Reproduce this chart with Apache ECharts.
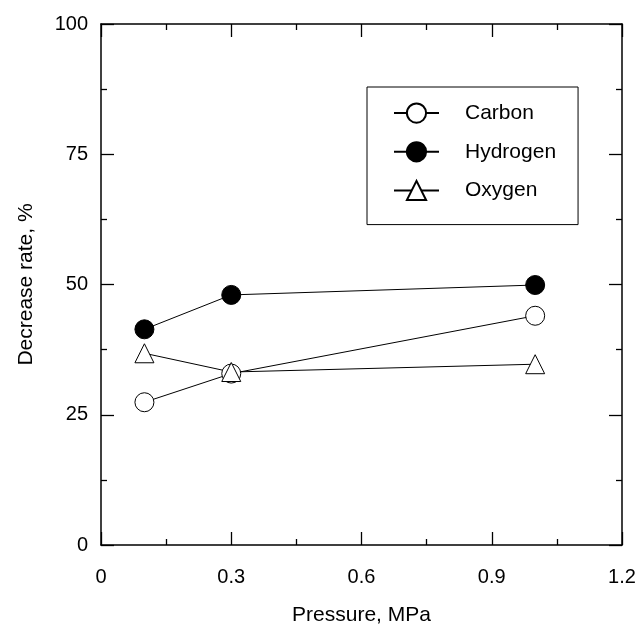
<!DOCTYPE html>
<html>
<head>
<meta charset="utf-8">
<script src="https://cdn.jsdelivr.net/npm/echarts@6/dist/echarts.min.js"></script>
<style>html,body{margin:0;padding:0;background:#fff;}#c{width:640px;height:627px;}</style>
</head>
<body>
<div id="c"></div>
<script>
const pressure = [0.1, 0.3, 1.0];
const carbon = [27.4, 32.9, 44.0];
const hydrogen = [41.4, 48.0, 49.9];
const oxygen = [36.8, 33.2, 34.7];
const seriesNames = ['Carbon', 'Hydrogen', 'Oxygen'];

const FONT = "'Liberation Sans', Arial, sans-serif";
const chart = echarts.init(document.getElementById('c'));

function pairs(xs, ys) { return xs.map((x, i) => [x, ys[i]]); }

const axisCommon = {
  axisLine: { show: true, onZero: false, lineStyle: { color: '#000', width: 1.5 } },
  axisTick: { show: true, inside: true, length: 13, lineStyle: { color: '#000', width: 1.3 } },
  minorTick: { show: true, splitNumber: 2, length: 6, lineStyle: { color: '#000', width: 1.3 } },
  splitLine: { show: false },
  minorSplitLine: { show: false }
};

chart.setOption({
  animation: false,
  backgroundColor: '#fff',
  textStyle: { fontFamily: FONT, color: '#000' },
  grid: { left: 101, right: 18, top: 24, bottom: 82, containLabel: false, outerBoundsMode: 'none' },
  legend: {
    data: seriesNames,
    orient: 'vertical',
    left: 367, top: 87,
    padding: [15.5, 22, 23.5, 26],
    itemGap: 17.5,
    itemWidth: 45, itemHeight: 24,
    borderColor: '#000', borderWidth: 1,
    textStyle: { fontFamily: FONT, fontSize: 21, color: '#000', padding: [0, 0, 0, 21] }
  },
  xAxis: [
    Object.assign({}, axisCommon, {
      type: 'value', min: 0, max: 1.2, interval: 0.3, position: 'bottom',
      name: 'Pressure, MPa', nameLocation: 'middle', nameGap: 60,
      nameTextStyle: { fontFamily: FONT, fontSize: 21, color: '#000' },
      axisLabel: { fontFamily: FONT, fontSize: 20, color: '#000', margin: 22 }
    }),
    Object.assign({}, axisCommon, {
      type: 'value', min: 0, max: 1.2, interval: 0.3, position: 'top',
      axisLabel: { show: false }
    })
  ],
  yAxis: [
    Object.assign({}, axisCommon, {
      type: 'value', min: 0, max: 100, interval: 25, position: 'left',
      name: 'Decrease rate, %', nameLocation: 'middle', nameGap: 64,
      nameTextStyle: { fontFamily: FONT, fontSize: 21, color: '#000' },
      axisLabel: { fontFamily: FONT, fontSize: 20, color: '#000', margin: 13 }
    }),
    Object.assign({}, axisCommon, {
      type: 'value', min: 0, max: 100, interval: 25, position: 'right',
      axisLabel: { show: false }
    })
  ],
  series: [
    {
      name: 'Carbon', type: 'line', data: pairs(pressure, carbon),
      symbol: 'circle', symbolSize: 19,
      itemStyle: { color: '#fff', borderColor: '#000', borderWidth: 1 },
      lineStyle: { color: '#000', width: 1 }
    },
    {
      name: 'Hydrogen', type: 'line', data: pairs(pressure, hydrogen),
      symbol: 'circle', symbolSize: 19,
      itemStyle: { color: '#000', borderColor: '#000', borderWidth: 1 },
      lineStyle: { color: '#000', width: 1 }
    },
    {
      name: 'Oxygen', type: 'line', data: pairs(pressure, oxygen),
      symbol: 'triangle', symbolSize: 19,
      itemStyle: { color: '#fff', borderColor: '#000', borderWidth: 1 },
      lineStyle: { color: '#000', width: 1 }
    }
  ]
});
</script>
</body>
</html>
